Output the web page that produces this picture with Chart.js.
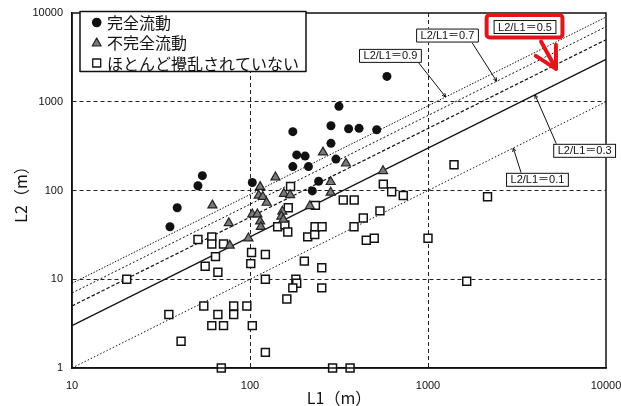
<!DOCTYPE html>
<html><head><meta charset="utf-8">
<script src="https://cdn.jsdelivr.net/npm/chart.js@4.4.0/dist/chart.umd.min.js"></script>
<style>html,body{margin:0;padding:0;background:#fff;}#wrap{width:621px;height:406px;position:relative;}</style>
</head><body><div id="wrap"><canvas id="c" width="621" height="406"></canvas></div>
<script>
// ---- data (L1, L2 in metres) ----
const fullL1 = [35.5, 39, 51, 54, 103, 174, 174, 183, 204, 213, 224, 243, 285, 285, 304, 316, 358, 410, 515, 588];
const fullL2 = [39, 64, 113, 147, 123, 460, 186, 252, 244, 186, 99, 127, 536, 340, 226, 890, 496, 502, 483, 1930];
const partL1 = [61.5, 76, 77, 98, 103, 110, 114, 112, 118, 124, 114, 115, 139, 152, 150, 154, 155, 168, 217, 257, 284, 284, 346, 559];
const partL2 = [68, 43, 24, 29, 54, 54, 110, 88, 85, 73, 45, 39, 141, 58, 51, 47, 92, 89, 67, 269, 125, 95, 202, 166];
const undL1 = [20.3, 35, 41, 51, 61, 61, 71, 64, 56, 66, 55, 66, 61, 71, 81, 81, 96, 103, 102, 101, 122, 122, 122, 69, 169, 164, 143, 157, 163, 202, 181, 183, 174, 161, 253, 253, 211, 231, 232, 254, 334, 385, 384, 233, 291, 365, 561, 625, 726, 537, 433, 499, 450, 1000, 1400, 2160, 1650];
const undL2 = [10, 4, 2, 28, 30, 25, 25, 18, 14, 12, 5, 4, 3, 3, 5, 4, 5, 3, 20, 15, 19, 10, 1.5, 1, 111, 64, 39, 41, 34, 16, 10, 9, 8, 6, 13.5, 8, 30, 32, 39, 39, 78, 78, 39, 68, 1, 1, 118, 97, 88, 59, 49, 29, 27.5, 29, 195, 85, 9.5];
const seriesNames = ['完全流動', '不完全流動', 'ほとんど攪乱されていない'];
const xTicks = [10, 100, 1000, 10000];
const yTicks = [1, 10, 100, 1000, 10000];
// ratio lines L2/L1 (endpoints at L1 = 10 and 10000)
const lineL1 = [10, 10000];
const ratio01 = [1, 1000];
const ratio03 = [3, 3000];
const ratio05 = [5, 5000];
const ratio07 = [7, 7000];
const ratio09 = [9, 9000];
const ratioNames = ['L2/L1＝0.1', 'L2/L1＝0.3', 'L2/L1＝0.5', 'L2/L1＝0.7', 'L2/L1＝0.9'];
// label box centres and leader targets (data coords)
const labelPos = [
  {cx: 4120, cy: 132, tx: 3013, ty: 301, side: 'top', frac: 0.24},
  {cx: 7586, cy: 280, tx: 3990, ty: 1197, side: 'top', frac: 0.05},
  {cx: 3508, cy: 6950, tx: null, ty: null},
  {cx: 1287, cy: 5570, tx: 2432, ty: 1702, side: 'bottom', frac: 0.89},
  {cx: 615, cy: 3287, tx: 1257, ty: 1131, side: 'bottom', frac: 0.95}
];
const redArrow = {sx: 4315, sy: 4766, tx: 5237, ty: 2350};

const pts = (a, b) => a.map((v, i) => ({x: v, y: b[i]}));

const lineDs = (arr, dash, w, label) => ({
  type: 'scatter', label, data: pts(lineL1, arr), showLine: true, pointRadius: 0,
  borderColor: '#111', borderWidth: w, borderDash: dash, fill: false, clip: false, order: 5
});

const TICKFONT = {family: '"Liberation Sans", Arial, sans-serif', size: 11};

const gridColor = (c) => {
  const v = c.tick && c.tick.value;
  const s = c.scale;
  if (v === s.min || v === s.max) return 'rgba(0,0,0,0)';
  return '#222';
};

function drawArrowHead(ctx, x1, y1, x2, y2, len, spread) {
  const ang = Math.atan2(y1 - y2, x1 - x2);
  ctx.beginPath();
  ctx.moveTo(x2 + len * Math.cos(ang + spread), y2 + len * Math.sin(ang + spread));
  ctx.lineTo(x2, y2);
  ctx.lineTo(x2 + len * Math.cos(ang - spread), y2 + len * Math.sin(ang - spread));
  ctx.stroke();
}

function roundRect(ctx, x, y, w, h, r) {
  ctx.beginPath();
  ctx.moveTo(x + r, y);
  ctx.lineTo(x + w - r, y); ctx.arcTo(x + w, y, x + w, y + r, r);
  ctx.lineTo(x + w, y + h - r); ctx.arcTo(x + w, y + h, x + w - r, y + h, r);
  ctx.lineTo(x + r, y + h); ctx.arcTo(x, y + h, x, y + h - r, r);
  ctx.lineTo(x, y + r); ctx.arcTo(x, y, x + r, y, r);
  ctx.closePath();
}

const decor = {
  id: 'decor',
  afterDatasetsDraw(chart) {
    const {ctx, chartArea: a, scales: {x, y}} = chart;
    ctx.save();
    // frame
    ctx.strokeStyle = '#111'; ctx.lineWidth = 1.5; ctx.setLineDash([]);
    ctx.strokeRect(a.left, a.top, a.right - a.left, a.bottom - a.top);

    // ratio labels
    ctx.font = '11px "Liberation Sans", "Noto Sans CJK JP", sans-serif';
    ctx.textAlign = 'center'; ctx.textBaseline = 'middle';
    labelPos.forEach((l, i) => {
      const cx = x.getPixelForValue(l.cx), cy = y.getPixelForValue(l.cy);
      const tw = ctx.measureText(ratioNames[i]).width;
      const w = tw + 9, h = 14;
      const bx = cx - w / 2, by = cy - h / 2;
      if (l.tx !== null) {
        const sx = bx + w * l.frac, sy = l.side === 'top' ? by : by + h;
        const tx = x.getPixelForValue(l.tx), ty = y.getPixelForValue(l.ty);
        ctx.strokeStyle = '#111'; ctx.lineWidth = 1;
        ctx.beginPath(); ctx.moveTo(sx, sy); ctx.lineTo(tx, ty); ctx.stroke();
        drawArrowHead(ctx, sx, sy, tx, ty, 4, 0.45);
      }
      ctx.fillStyle = '#fff'; ctx.fillRect(bx, by, w, h);
      ctx.strokeStyle = '#111'; ctx.lineWidth = 1; ctx.strokeRect(bx + 0.5, by + 0.5, w - 1, h - 1);
      ctx.fillStyle = '#111'; ctx.fillText(ratioNames[i], cx, cy + 0.5);
      if (l.tx === null) {
        // red highlight box + arrow
        ctx.strokeStyle = '#e3141c'; ctx.lineWidth = 4; ctx.lineJoin = 'round'; ctx.lineCap = 'round';
        roundRect(ctx, bx - 7, by - 5, w + 13, h + 8.5, 3);
        ctx.stroke();
        const sx = x.getPixelForValue(redArrow.sx), sy = y.getPixelForValue(redArrow.sy);
        const tx = x.getPixelForValue(redArrow.tx), ty = y.getPixelForValue(redArrow.ty);
        ctx.beginPath(); ctx.moveTo(sx, sy); ctx.lineTo(tx, ty); ctx.stroke();
        drawArrowHead(ctx, sx, sy, tx, ty, 24, 0.5);
        ctx.lineCap = 'butt';
      }
    });

    // legend
    const lx = a.left + 8, ly = a.top - 1.5, lw = 226, lh = 60;
    ctx.fillStyle = '#fff'; ctx.fillRect(lx, ly, lw, lh);
    ctx.strokeStyle = '#111'; ctx.lineWidth = 1.5; ctx.strokeRect(lx, ly, lw, lh);
    const rows = [ly + 11, ly + 31, ly + 51.5];
    const mx = lx + 16.7;
    // circle
    ctx.fillStyle = '#111';
    ctx.beginPath(); ctx.arc(mx, rows[0], 4.8, 0, Math.PI * 2); ctx.fill();
    // triangle
    ctx.fillStyle = '#777'; ctx.strokeStyle = '#222'; ctx.lineWidth = 1.2;
    ctx.beginPath(); ctx.moveTo(mx, rows[1] - 4.5); ctx.lineTo(mx + 4.5, rows[1] + 3.5); ctx.lineTo(mx - 4.5, rows[1] + 3.5); ctx.closePath(); ctx.fill(); ctx.stroke();
    // square
    ctx.fillStyle = '#fff'; ctx.strokeStyle = '#111'; ctx.lineWidth = 1.3;
    ctx.fillRect(mx - 4, rows[2] - 4, 8, 8); ctx.strokeRect(mx - 4, rows[2] - 4, 8, 8);
    ctx.fillStyle = '#111'; ctx.textAlign = 'left'; ctx.textBaseline = 'middle';
    ctx.font = '16px "Noto Sans CJK JP", sans-serif';
    seriesNames.forEach((n, i) => ctx.fillText(n, lx + 27, rows[i] + 0.5));

    // axis titles
    ctx.font = '16px "Noto Sans CJK JP", sans-serif';
    ctx.textAlign = 'center'; ctx.textBaseline = 'middle';
    ctx.fillText('L1（m）', (a.left + a.right) / 2, 398);
    ctx.save();
    ctx.translate(21, (a.top + a.bottom) / 2);
    ctx.rotate(-Math.PI / 2);
    ctx.fillText('L2（m）', 0, 0);
    ctx.restore();
    ctx.restore();
  }
};

new Chart(document.getElementById('c'), {
  type: 'scatter',
  data: {
    datasets: [
      {label: seriesNames[0], data: pts(fullL1, fullL2), pointStyle: 'circle', pointRadius: 4.5,
       backgroundColor: '#111', borderColor: '#111', borderWidth: 0, clip: false, order: 1},
      {label: seriesNames[1], data: pts(partL1, partL2), pointStyle: 'triangle', pointRadius: 5.2,
       backgroundColor: '#7a7a7a', borderColor: '#222', borderWidth: 1.2, clip: false, order: 2},
      {label: seriesNames[2], data: pts(undL1, undL2), pointStyle: 'rect', pointRadius: 5.6,
       backgroundColor: '#fff', borderColor: '#111', borderWidth: 1.5, clip: false, order: 3},
      lineDs(ratio01, [1.5, 2], 1, ratioNames[0]),
      lineDs(ratio03, [], 1.2, ratioNames[1]),
      lineDs(ratio05, [3.5, 2], 1.2, ratioNames[2]),
      lineDs(ratio07, [2, 2], 1, ratioNames[3]),
      lineDs(ratio09, [1.5, 1.5], 1, ratioNames[4])
    ]
  },
  options: {
    responsive: false, animation: false, devicePixelRatio: 1,
    layout: {padding: {top: 13, right: 15, left: 0, bottom: 0}},
    plugins: {legend: {display: false}, tooltip: {enabled: false}},
    scales: {
      x: {
        type: 'logarithmic', min: 10, max: 10000,
        afterBuildTicks: s => { s.ticks = xTicks.map(v => ({value: v})); },
        afterFit: s => { s.height = 38; s.paddingLeft = 0; s.paddingRight = 0; },
        ticks: {font: TICKFONT, color: '#111', padding: 11, maxRotation: 0, autoSkip: false,
                callback: v => String(v)},
        grid: {color: gridColor, lineWidth: 1, drawTicks: false},
        border: {display: true, color: '#111', width: 1.5, dash: [4, 3]}
      },
      y: {
        type: 'logarithmic', min: 1, max: 10000,
        afterBuildTicks: s => { s.ticks = yTicks.map(v => ({value: v})); },
        afterFit: s => { s.width = 72; s.paddingTop = 0; s.paddingBottom = 0; },
        ticks: {font: TICKFONT, color: '#111', padding: 9, autoSkip: false,
                callback: v => String(v)},
        grid: {color: gridColor, lineWidth: 1, drawTicks: false},
        border: {display: true, color: '#111', width: 1.5, dash: [4, 3]}
      }
    }
  },
  plugins: [decor]
});
</script></body></html>
